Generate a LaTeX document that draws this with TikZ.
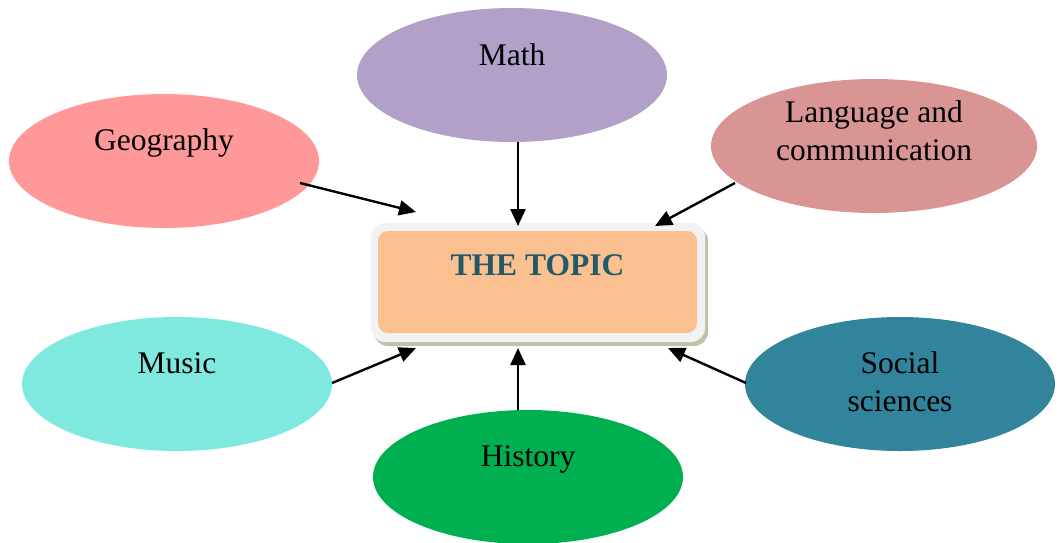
\documentclass[tikz,border=0pt]{standalone}
\usepackage{fontspec}
\setmainfont{Liberation Serif}
\usetikzlibrary{shapes.geometric,arrows.meta}
\definecolor{cMath}{HTML}{B1A0C7}
\definecolor{cGeo}{HTML}{FF9999}
\definecolor{cLang}{HTML}{D99594}
\definecolor{cMusic}{HTML}{7FE9E0}
\definecolor{cHist}{HTML}{00B050}
\definecolor{cSoc}{HTML}{31849B}
\definecolor{cTopic}{HTML}{FAC090}
\definecolor{cRim}{HTML}{F2F2F2}
\definecolor{cShade}{HTML}{B9C4A8}
\definecolor{cTitle}{HTML}{215968}
\tikzset{
  bubble/.style={ellipse, draw=none, inner sep=0pt, minimum width=310pt, minimum height=134pt},
  label text/.style={font=\fontsize{31.5}{38}\selectfont, align=center, inner sep=0pt},
  link/.style={line width=2.4pt, -{Triangle[length=17pt,width=15pt]}}
}
\begin{document}
\begin{tikzpicture}[x=1pt,y=-1pt]
\useasboundingbox (0,0) rectangle (1062,542);
% subject bubbles
\node[bubble, fill=cMath] (math) at (512,75) {};
\node[bubble, fill=cGeo] (geo) at (164,161) {};
\node[bubble, fill=cLang, minimum width=326pt] (lang) at (874,146) {};
\node[bubble, fill=cMusic] (music) at (177,384) {};
\node[bubble, fill=cHist] (hist) at (528,477) {};
\node[bubble, fill=cSoc] (soc) at (900,384) {};
% labels
\node[label text] (mathT) at (512,55) {Math};
\node[label text] (geoT) at (164,143) {Geography};
\node[label text] (langT) at (874,131) {Language and\\communication};
\node[label text] (musicT) at (177,363) {Music};
\node[label text] (histT) at (528,459) {History};
\node[label text] (socT) at (900,382) {Social\\sciences};
% central topic box
\fill[cShade, rounded corners=14pt] (374,227) rectangle (708,346);
\fill[cRim, rounded corners=14pt] (371,223) rectangle (705,342);
\node[fill=cTopic, rounded corners=10pt, minimum width=319pt, minimum height=102pt, inner sep=0pt] (topic) at (537.5,282) {};
\node[font=\fontsize{31.5}{38}\selectfont\bfseries, text=cTitle, inner sep=0pt] (topicT) at (537.5,265) {THE TOPIC};
% arrow end points
\coordinate (geoS) at (300,183);
\coordinate (geoE) at (416,212);
\coordinate (mathS) at (518,142);
\coordinate (mathE) at (518,226);
\coordinate (langS) at (735,183);
\coordinate (langE) at (655,226);
\coordinate (musicS) at (332,383);
\coordinate (musicE) at (416,348);
\coordinate (histS) at (518,410);
\coordinate (histE) at (518,348);
\coordinate (socS) at (746,383);
\coordinate (socE) at (668,348);
\draw[link] (geoS) -- (geoE);
\draw[link] (mathS) -- (mathE);
\draw[link] (langS) -- (langE);
\draw[link] (musicS) -- (musicE);
\draw[link] (histS) -- (histE);
\draw[link] (socS) -- (socE);
\end{tikzpicture}
\end{document}
